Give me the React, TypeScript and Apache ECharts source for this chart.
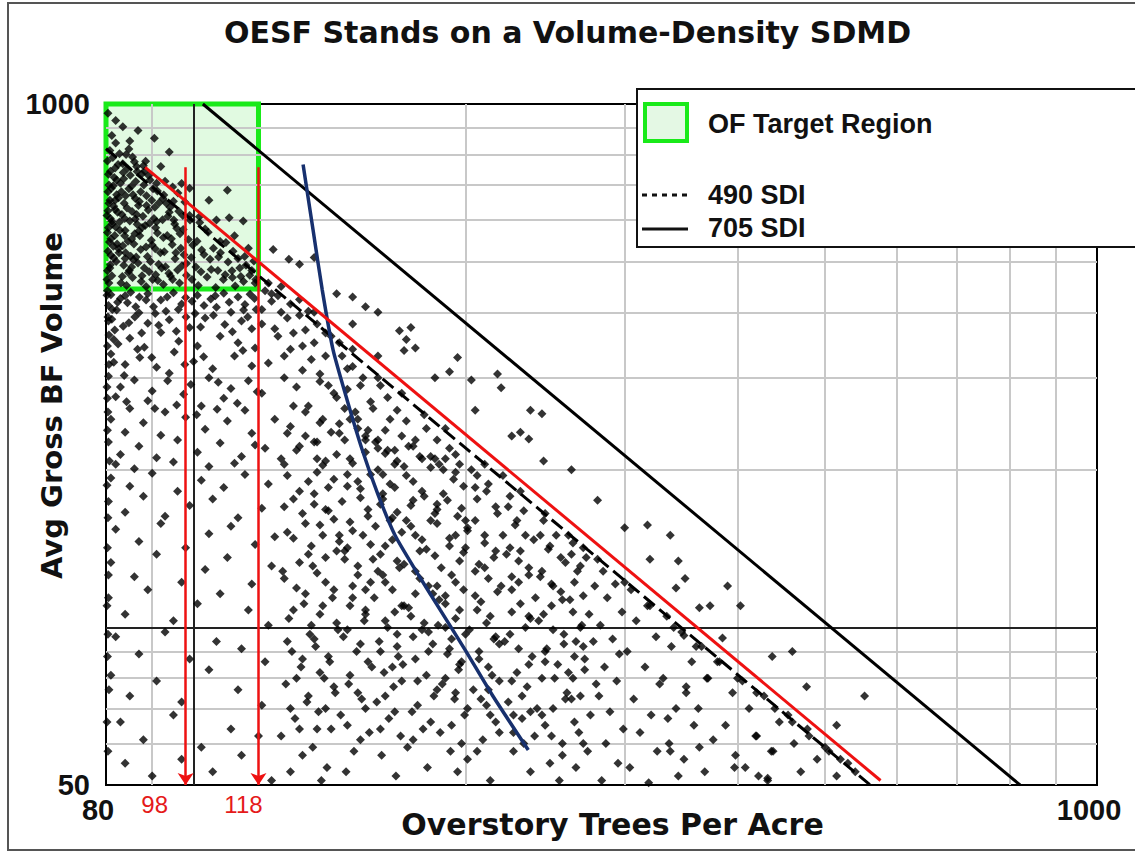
import React, { useEffect, useRef } from "react";
import * as echarts from "echarts";

// ---- axis settings (trees per acre / board-foot volume, both log) ----
const xLabelValues = [80, 1000];
const yLabelValues = [50, 1000];
const xGridValues = [90, 200, 300, 400, 500, 600, 700, 800, 900];
const yGridValues = [60, 70, 80, 90, 200, 300, 400, 500, 600, 700, 800, 900];
const xMajorLine = 100;
const yMajorLine = 100;

// ---- reference lines ----
const sdi490Line = [[80, 822], [561, 50]];
const sdi705Line = [[102.4, 1000], [822, 50]];
const redTrendLine = [[88.4, 757], [576, 51]];
const blueCurve = [
  [132.2, 766], [135.6, 575], [138.8, 442], [142.7, 339], [147.9, 272], [153.7, 218.5],
  [160.1, 179], [167.1, 150], [175.9, 129], [187.5, 108], [199.8, 90.6], [214.1, 74.3], [234.7, 58.3],
];
const arrowTPA = [98, 118];
const arrowTop = 757;
const targetRegion = { tpaMin: 80, tpaMax: 118, volMin: 443, volMax: 1000 };

// ---- stand points [TPA, volume] ----
const targetRegionStands = [
  [80.6,455],[81.2,470],[80.8,486],[82.1,500],[81.0,514],[82.6,529],[80.7,545],[81.8,561],[82.9,574],[81.3,590],[80.9,604],[82.4,621],[81.6,638],[80.8,655],[82.2,671],[81.1,690],[83.0,706],[81.7,724],[80.9,744],[82.5,766],[81.4,790],[80.8,815],[82.0,842],[81.2,871],
  [84.3,450],[85.6,466],[84.9,481],[86.8,497],[85.2,512],[87.4,527],[84.6,547],[86.1,565],[87.7,581],[85.0,598],[86.5,615],[84.4,633],[87.1,651],[85.7,671],[84.8,689],[86.3,711],[85.1,731],[84.5,754],[86.0,776],[84.2,801],
  [88.6,448],[90.1,462],[89.3,478],[91.5,494],[88.9,511],[90.7,529],[89.8,549],[91.2,567],[88.4,586],[90.4,604],[89.1,627],[91.6,648],[88.7,668],[90.2,689],[89.5,716],[88.3,744],
  [92.6,452],[94.3,469],[93.1,489],[95.4,506],[92.8,522],[94.7,539],[93.5,561],[95.8,579],[92.4,601],[94.0,621],[93.3,646],[92.7,670],[94.8,694],
  [96.5,455],[98.2,471],[97.1,491],[99.4,509],[96.8,530],[98.7,551],[97.4,576],[99.1,600],[96.3,624],[97.8,650],
  [101.2,450],[103.5,467],[100.6,488],[104.3,505],[102.1,526],[100.9,547],[103.8,569],[101.6,594],
  [105.8,446],[107.9,462],[106.4,481],[109.2,499],[107.1,520],[108.6,544],
  [111.2,449],[113.6,458],[115.4,471],[112.5,486],[116.6,501],[110.4,466],
  [86.8,890],[94,810],[88.5,777],[109,684],[101.5,609],[113.5,598],[109.5,606],[82,930],[83.5,905],[90.5,860],[80.4,960],[85,850],[92,760],[97,705],[104,655],[106,600],[111,560],[115,530],[117,455],[99,690],
  [88,762],[91,706],[95,652],[99,612],[103,577],[107,546],[112,507],[116,481],
  [80.3,480],[81.5,535],[80.5,580],[83.3,615],[80.6,700],[83.6,740],[82.7,520],[83.9,560],[81.9,655],[83.2,680],[80.4,625],[82.8,595],[84.1,520],[85.9,540],[87.9,610],[86.9,640],[88.1,700],[89.9,655],[87.2,560],[90.8,580],[91.9,520],[89.6,500],[93.9,475],[95.1,600],[91.3,460],[87.7,470],[85.4,488],[83.1,455],
];
const targetRegionDense = [
  [80.2,462],[80.9,493],[81.6,508],[80.4,523],[82.3,540],[81.0,553],[80.3,568],[82.0,582],[81.2,597],[80.2,612],[81.9,629],[80.6,646],[82.6,662],[80.4,680],[81.5,698],[82.2,716],[80.5,734],[81.9,755],[80.3,778],[82.8,803],
  [83.4,468],[84.7,476],[83.7,492],[85.8,504],[84.0,507],[83.5,536],[85.4,552],[84.0,573],[86.6,589],[83.9,604],[85.5,623],[83.8,646],[86.2,660],[84.1,668],[85.4,697],[83.7,720],[86.6,743],[83.5,769],[85.6,792],[84.8,820],
  [87.5,458],[88.2,486],[86.4,510],[88.6,533],[87.0,572],[89.4,592],[86.2,603],[88.7,640],[87.4,680],[89.2,730],[87.6,735],[86.5,760],
  [90.8,472],[92.2,486],[90.0,538],[92.6,556],[91.0,596],[93.7,610],[90.6,635],[92.5,660],[91.2,682],[93.0,712],
  [94.8,462],[96.0,482],[95.6,520],[97.6,515],[94.5,553],[96.6,565],[95.3,590],[97.3,612],[94.2,635],[96.1,676],
  [99.6,462],[101.9,478],[98.2,496],[102.7,516],[99.8,538],[104.6,483],[106.6,510],[105.2,530],[110.3,480],[114.3,492],[108.4,472],[112.8,468],[117.2,462],[113.9,511],[110.6,523],
];
const lowerLeftStands = [
  [81,432],[83,425],[85.2,437],[87.1,428],[89,434],[92,422],[95,436],[98,427],[101,431],[104.5,424],[108,435],[112,428],[115.5,433],
  [80.5,412],[82.2,404],[84.5,417],[87,399],[90.3,410],[93.2,402],[97,415],[100.4,398],[106,409],[110,400],[114,414],[117.3,405],
  [81.2,388],[83.6,376],[86.1,392],[89,381],[94,387],[99,374],[103,390],[108.3,379],[113,385],[116,372],
  [80.6,362],[82.5,348],[85,357],[88.2,343],[92,366],[96.3,352],[101,345],[107,360],[112,350],[117,342],
  [81,333],[84,318],[87.2,328],[91,314],[95.2,336],[100,322],[105,312],[111,330],[116,316],
  [80.5,302],[83,288],[86,297],[90,283],[94,306],[99.3,291],[104,300],[110,286],[115,296],
  [82,276],[85,262],[89,271],[93,258],[97.5,279],[102,265],[108,274],[114,260],
  [81,250],[84,236],[88,246],[92,233],[98,252],[103,239],[109,248],[116,235],
  [80.5,226],[83,214],[87,222],[91,211],[96,228],[101,216],[107,225],[113,212],[117,223],
  [82,205],[86,201],[95,207],[104,203],[111,206],
];
const lowerLeftDense = [
  [80.3,440],[82.4,418],[84.0,430],[86.3,410],[88.6,422],[90.7,398],[93.5,428],[96.2,405],[99.6,420],[102.7,412],[105.7,430],[109.5,418],[113.6,404],[116.8,425],
  [80.4,392],[81.8,370],[84.8,382],[87.6,365],[91.5,378],[95.7,368],[98.1,392],[101.8,375],[105.2,395],[110.4,367],[114.8,392],
  [81.6,321],[83.8,303],[86.7,340],[89.9,328],[93.6,296],[97.8,318],[102.6,329],[106.5,294],[113.4,338],[80.3,274],[84.3,270],[90.6,262],[95.8,266],[100.8,255],[106.2,261],[111.8,268],[117.6,282],
];
const leftEdgeStands = [
  [80.2,431],[80.5,385],[80.3,345],[80.6,318],[80.2,288],[80.4,258],[80.3,238],[80.7,208],[80.2,187],[80.4,162],
  [80.3,142],[80.5,126],[80.2,110],[80.4,97],[80.3,88],[80.6,76],[80.2,66],[80.4,58],[81.3,405],[81.6,355],
];
const bottomLeftStands = [
  [81,193],[85,186],[90,197],[96,182],[102,191],[108,185],[114,196],[121,188],
  [80.5,174],[84,166],[88,178],[93,163],[99,171],[105,176],[112,162],[119,169],
  [82,154],[87,146],[92,158],[98,142],[104,151],[110,156],[117,144],[123,149],
  [81,133],[86,125],[91,138],[97,122],[103,129],[109,136],[116,121],[122,131],
  [80.5,114],[84,106],[89,118],[95,103],[101,111],[107,116],[115,108],[121,101],
  [82,96],[87,89],[93,98],[99,87],[106,94],[113,91],[120,86],
  [81,81],[85,74],[91,79],[97,72],[104,83],[112,76],[119,71],
  [83,66],[88,61],[95,68],[102,59],[110,64],[118,62],
  [84,55],[90,52],[97,56],[105,53],[113,57],[122,51],
];
const midStands = [
  [120,440],[122,420],[125,400],[119,380],[124,360],[128,340],[121,320],[126,300],[119,280],[129,265],[123,250],[127,235],[120,220],[125,210],
  [131,395],[133,370],[136,350],[140,330],[132,310],[138,295],[143,280],[134,265],[139,250],[145,235],[131,222],[137,210],
  [146,330],[150,315],[154,300],[148,285],[157,270],[151,258],[145,245],[155,232],[160,220],[149,210],
  [161,290],[164,275],[168,260],[172,248],[163,238],[176,228],[167,218],[179,210],[171,203],
  [181,240],[186,228],[192,220],[183,212],[197,205],[189,200],
  [121,455],[124,430],[127,390],[129,365],[132,345],[135,325],[138,305],[141,290],[144,275],[147,262],[152,250],[156,238],[159,226],[163,215],[167,205],[119,405],[123,372],[126,330],[130,288],[133,258],[136,226],[140,208],[142,360],[153,290],[158,262],[165,250],[170,232],[175,222],[185,210],[195,214],[150,340],[155,228],[148,312],[137,380],[125,448],[128,415],[134,402],
];
const mainBodyStands = [
  [127,195],[131,182],[126,170],[133,158],[129,148],[134,138],[125.5,128],[130,119],[132.5,111],[127.5,104],[134.5,97],[128.5,90],[131.5,84],[126.5,78],[133.5,72],[129.5,67],[125,62],[132,57],[128,53],
  [137,198],[141,185],[136,172],[143,161],[139,150],[144,140],[135.5,131],[140,122],[142.5,114],[138,106],[144.5,99],[136.5,92],[141.5,86],[139.5,80],[143.5,75],[137.5,69],[142,64],[135.5,59],[140.5,54],[138.5,51],
  [148,196],[153,184],[146,174],[156,163],[150,153],[157,144],[147,135],[152,126],[155,118],[149,110],[154.5,103],[146.5,96],[151.5,90],[157.5,84],[148.5,78],[153.5,73],[145.5,68],[156.5,63],[150.5,58],[147.5,53],
  [160,200],[165,188],[162,176],[168,166],[159,156],[166,147],[161,138],[169,130],[163,122],[158.5,114],[167,107],[164,100],[160.5,94],[168.5,88],[162.5,82],[166.5,77],[159.5,72],[164.5,67],[169.5,62],[161.5,57],[167.5,52],
  [172,195],[179,182],[174,171],[183,160],[176,150],[181,141],[171,132],[178,124],[184,116],[173,109],[180,102],[175,96],[182,90],[170.5,85],[177,79],[184.5,74],[174.5,69],[179.5,64],[172.5,59],[181.5,54],
  [187,205],[194,192],[189,180],[198,169],[186,158],[192,148],[199,139],[188,130],[195,122],[190,115],[197,108],[186.5,101],[193,95],[191,89],[196.5,83],[188.5,78],[194.5,73],[199.5,68],[187.5,63],[192.5,58],[196,53],
  [203,200],[212,188],[206,176],[217,165],[201,155],[210,145],[215,136],[205,128],[219,120],[208,112],[213,105],[202,99],[218,93],[207,87],[214,81],[204,76],[211,71],[216,66],[209,61],[201,56],[213,51],
  [224,178],[232,167],[227,157],[238,147],[222,138],[235,130],[229,122],[239,114],[225,107],[233,100],[221,94],[237,88],[228,82],[234,77],[223,72],[231,67],[238.5,62],[226,58],[236,53],
  [244,160],[252,150],[247,141],[258,133],[242,125],[255,117],[249,110],[241,103],[257,97],[246,91],[253,85],[243,80],[259,75],[250,70],[245,65],[256,60],[248,55],[254,51],
  [263,145],[272,136],[266,128],[278,120],[261,113],[274,106],[268,100],[277,94],[264,88],[271,83],[279,78],[262,73],[275,68],[267,63],[273,58],[265,54],
  [284,128],[293,121],[287,114],[298,107],[282,101],[291,95],[296,89],[285,84],[294,79],[281,74],[289,69],[299,64],[286,60],[295,55],[283,51],
  [150,120],[158,135],[170,110],[178,140],[190,100],[205,115],[215,95],[225,125],[235,105],[245,90],[165,160],[175,175],[185,165],[195,150],[210,130],[220,150],[230,140],[145,150],[155,108],[168,92],[182,98],[198,86],[212,76],[226,68],[240,70],[260,82],[270,92],[250,120],[200,142],[186,120],[176,116],[160,128],[148,142],[140,168],[152,190],[162,180],[172,160],[186,172],[205,185],[200,160],
];
const mainBodyDense = [
  [128,242],[133,232],[130,218],[126,205],[134,190],[129,176],[132,165],[127,152],[135,143],[131,133],[126,124],[133,116],[129,108],[135,101],[127,94],[132,87],[130,80],[134,74],[128,70],[131,64],
  [138,246],[142,236],[137,226],[144,214],[139,204],[143,192],[136,180],[141,167],[138,157],[145,146],[140,136],[137,127],[143,118],[139,110],[144,102],[136,95],[141,88],[138,82],[143,77],[140,70],[137,64],
  [149,250],[152,240],[147,228],[155,216],[150,206],[157,196],[148,186],[153,177],[156,168],[149,159],[154,150],[147,140],[152,131],[157,122],[150,114],[155,106],[148,99],[153,93],[156,86],[149,81],[152,75],[155,70],[148,65],[153,61],
  [160,228],[164,218],[168,208],[162,196],[167,185],[161,172],[166,162],[170,152],[163,143],[168,134],[162,126],[166,118],[171,110],[163,103],[168,97],[161,90],[166,84],[170,79],[163,74],[167,69],[161,64],
  [173,222],[178,212],[183,202],[175,190],[180,178],[186,168],[174,156],[179,147],[185,137],[176,128],[182,120],[187,113],[174,105],[179,99],[184,93],[176,87],[181,81],[186,76],[177,71],[183,66],[175,61],
  [190,210],[195,198],[199,186],[191,175],[196,163],[201,153],[192,143],[197,134],[193,126],[199,118],[190,111],[195,104],[200,97],[192,91],[197,85],[190,80],[195,75],[201,70],[193,65],[198,60],
  [206,195],[211,182],[216,170],[205,160],[210,150],[216,140],[207,132],[212,124],[217,117],[206,108],[211,102],[216,96],[207,90],[212,84],[218,79],[208,73],[213,68],[218,63],[206,58],
  [223,170],[228,160],[233,150],[224,142],[229,134],[235,126],[225,118],[230,111],[236,104],[224,97],[229,91],[235,85],[225,79],[231,74],[236,69],[226,63],[232,60],
  [242,150],[248,143],[255,136],[243,128],[249,121],[256,113],[244,106],[250,99],[257,93],[245,86],[251,80],[258,73],[243,68],[249,62],[256,57],
  [262,138],[268,131],[264,122],[270,115],[263,107],[269,101],[265,94],[271,87],[263,80],[268,74],[264,66],[270,60],
];
const rightStands = [
  [305,118],[318,110],[309,103],[325,96],[302,90],[316,84],[328,78],[307,73],[321,68],[312,63],[326,58],[304,54],[319,50.5],
  [334,105],[347,98],[338,92],[356,86],[331,80],[351,75],[342,70],[358,65],[336,60],[349,56],[344,52],
  [365,92],[382,86],[371,80],[395,75],[362,70],[388,65],[376,61],[398,57],[368,53],
  [405,79],[428,74],[412,70],[445,66],[420,62],[438,58],[408,54],[432,51],
  [455,68],[478,64],[462,60],[490,56],[470,53],
  [505,58],[530,55],[515,52],
];
const outlierStands = [
  [174,374],[169,369],[172,355],[176,342],[171,338],[196,328],[217,305],[192,308],[203,297],[219,287],[236,260],[243,256],[230,236],[225,232],[235,229],[244,208],
  [318,157],[337,150],[344,134],[350,124],[342,119],[363,109],[349,96.5],[351,77],[363,59],[337,58],[335,67],[373,110],[403,110],[437,88],[477,77],[553,74],[515,65],[419,62],[436,58],[397,54],[422,52],[432,51.5],[370,80],[385,95.5],
  [160,330],[185,300],[205,260],[150,380],[262,200],[280,175],[300,155],[320,135],[390,120],[460,90],
  [122,434],[131,423],[136,400],[144,434],[150,428],[160,400],[155,410],[122.5,527],[127.5,505],[131,494],[136,509],
];
const maxDensityStands = [
  [140,365],[160,300],[180,255],[210,205],[230,182],[260,150],[280,135],[320,110],[340,100],[380,86],[420,75],[460,66],[480,62],[520,56],[540,53],
  [145,350],[170,280],[190,240],[220,195],[245,165],[270,142],[300,122],[360,92],[400,80],[440,70],[500,59],
];

const allStands = [
  ...targetRegionStands, ...targetRegionDense, ...lowerLeftStands, ...lowerLeftDense, ...leftEdgeStands,
  ...bottomLeftStands, ...midStands, ...mainBodyStands, ...mainBodyDense, ...rightStands,
  ...outlierStands, ...maxDensityStands,
];

const BOLD_SANS = "DejaVu Sans";
const ARIAL = "Liberation Sans";

export default function App() {
  const ref = useRef<HTMLDivElement>(null);

  useEffect(() => {
    const chart = echarts.init(ref.current!, null, { renderer: "svg" });
    const gridLineData: any[] = [
      ...xGridValues.map((v) => ({ xAxis: v })),
      ...yGridValues.map((v) => ({ yAxis: v })),
      { xAxis: xMajorLine, lineStyle: { color: "#222", width: 2 } },
      { yAxis: yMajorLine, lineStyle: { color: "#222", width: 2 } },
    ];
    chart.setOption({
      animation: false,
      backgroundColor: "#fff",
      title: {
        text: "OESF Stands on a Volume-Density SDMD",
        left: "center",
        top: 12,
        textStyle: { fontFamily: BOLD_SANS, fontWeight: "bold", fontSize: 30, color: "#111" },
      },
      grid: {
        left: 106, right: 38, top: 104, bottom: 68,
        containLabel: false,
        outerBoundsMode: "none",
        show: true, borderColor: "#000", borderWidth: 2, backgroundColor: "transparent",
      },
      xAxis: {
        type: "log", logBase: 10, min: 80, max: 1000,
        name: "Overstory Trees Per Acre",
        nameLocation: "middle",
        nameGap: 24,
        nameMoveOverlap: false,
        nameTextStyle: {
          fontFamily: BOLD_SANS, fontWeight: "bold", fontSize: 30, color: "#111",
          verticalAlign: "top", padding: [0, 0, 0, 22],
        },
        axisLine: { show: true, onZero: false, lineStyle: { color: "#000", width: 2 } },
        axisTick: { show: false },
        splitLine: { show: false },
        minorTick: { show: false },
        axisLabel: {
          customValues: xLabelValues,
          formatter: (v: number) => String(Math.round(v)),
          fontFamily: ARIAL, fontWeight: "bold", fontSize: 29, color: "#111", margin: 10,
          padding: [0, 16, 0, 0],
        },
      },
      yAxis: {
        type: "log", logBase: 10, min: 50, max: 1000,
        name: "Avg Gross BF Volume",
        nameLocation: "middle",
        nameGap: 40,
        nameMoveOverlap: false,
        nameTextStyle: {
          fontFamily: BOLD_SANS, fontWeight: "bold", fontSize: 29, color: "#111",
          padding: [0, 0, 0, 78],
        },
        axisLine: { show: true, onZero: false, lineStyle: { color: "#000", width: 2 } },
        axisTick: { show: false },
        splitLine: { show: false },
        minorTick: { show: false },
        axisLabel: {
          customValues: yLabelValues,
          formatter: (v: number) => String(Math.round(v)),
          fontFamily: ARIAL, fontWeight: "bold", fontSize: 29, color: "#111", margin: 16,
        },
      },
      series: [
        {
          name: "gridlines",
          type: "line",
          data: [],
          silent: true,
          markLine: {
            silent: true,
            z: 1,
            symbol: ["none", "none"],
            label: { show: false },
            emphasis: { disabled: true },
            lineStyle: { color: "#c8c8c8", width: 2, type: "solid" },
            data: gridLineData,
          },
        },
        {
          name: "Stands",
          type: "scatter",
          z: 2,
          symbol: "diamond",
          symbolSize: 9,
          itemStyle: { color: "#000" },
          data: allStands,
          silent: true,
          markArea: {
            silent: true,
            itemStyle: {
              color: "rgba(200,245,200,0.55)",
              borderColor: "#19ea19",
              borderWidth: 5,
            },
            data: [[
              { coord: [targetRegion.tpaMin, targetRegion.volMax] },
              { coord: [targetRegion.tpaMax, targetRegion.volMin] },
            ]],
          },
        },
        {
          name: "490 SDI",
          type: "line",
          z: 3,
          symbol: "none",
          silent: true,
          data: sdi490Line,
          lineStyle: { color: "#000", width: 3, type: [14, 6] },
        },
        {
          name: "705 SDI",
          type: "line",
          z: 3,
          symbol: "none",
          silent: true,
          data: sdi705Line,
          lineStyle: { color: "#000", width: 3, type: "solid" },
        },
        {
          name: "Blue curve",
          type: "line",
          z: 4,
          symbol: "none",
          smooth: 0.2,
          silent: true,
          data: blueCurve,
          lineStyle: { color: "#17306e", width: 3.5 },
        },
        {
          name: "Red line",
          type: "line",
          z: 4,
          symbol: "none",
          silent: true,
          data: redTrendLine,
          lineStyle: { color: "#ee1111", width: 3 },
          markLine: {
            silent: true,
            symbol: ["none", "arrow"],
            symbolSize: 12,
            label: { show: false },
            emphasis: { disabled: true },
            lineStyle: { color: "#ee1111", width: 2.5, type: "solid" },
            data: arrowTPA.map((t) => [{ coord: [t, arrowTop] }, { coord: [t, 50] }]),
          },
        },
      ],
    });

    const p98 = chart.convertToPixel({ xAxisIndex: 0, yAxisIndex: 0 }, [arrowTPA[0], 50]) as number[];
    const p118 = chart.convertToPixel({ xAxisIndex: 0, yAxisIndex: 0 }, [arrowTPA[1], 50]) as number[];

    const legendText = { fontFamily: ARIAL, fontWeight: "bold", fontSize: 27, fill: "#111" };
    chart.setOption({
      graphic: [
        { type: "rect", silent: true, z: -10, shape: { x: 8, y: 3, width: 1140, height: 847 }, style: { fill: "none", stroke: "#555", lineWidth: 2 } },
        { type: "text", silent: true, z: 100, x: p98[0] - 31, y: p98[1] + 19, style: { text: String(arrowTPA[0]), fontFamily: ARIAL, fontSize: 24, fill: "#e51a1a", align: "center", verticalAlign: "middle" } },
        { type: "text", silent: true, z: 100, x: p118[0] - 15, y: p118[1] + 19, style: { text: String(arrowTPA[1]), fontFamily: ARIAL, fontSize: 24, fill: "#e51a1a", align: "center", verticalAlign: "middle" } },
        { type: "rect", silent: true, z: 100, shape: { x: 637, y: 89, width: 520, height: 158 }, style: { fill: "#fff", stroke: "#111", lineWidth: 2 } },
        { type: "rect", silent: true, z: 101, shape: { x: 645, y: 104, width: 42, height: 37 }, style: { fill: "#e4f8e4", stroke: "#19ea19", lineWidth: 4 } },
        { type: "text", silent: true, z: 101, x: 708, y: 124, style: { text: "OF Target Region", ...legendText, verticalAlign: "middle" } },
        { type: "line", silent: true, z: 101, shape: { x1: 642, y1: 195, x2: 688, y2: 195 }, style: { stroke: "#111", lineWidth: 3, lineDash: [5, 5] } },
        { type: "text", silent: true, z: 101, x: 708, y: 195, style: { text: "490 SDI", ...legendText, verticalAlign: "middle" } },
        { type: "line", silent: true, z: 101, shape: { x1: 642, y1: 229, x2: 688, y2: 229 }, style: { stroke: "#111", lineWidth: 3 } },
        { type: "text", silent: true, z: 101, x: 708, y: 228, style: { text: "705 SDI", ...legendText, verticalAlign: "middle" } },
      ],
    });

    return () => chart.dispose();
  }, []);

  return (
    <div
      ref={ref}
      style={{ position: "fixed", left: 0, top: 0, width: 1135, height: 853, background: "#fff" }}
    />
  );
}
